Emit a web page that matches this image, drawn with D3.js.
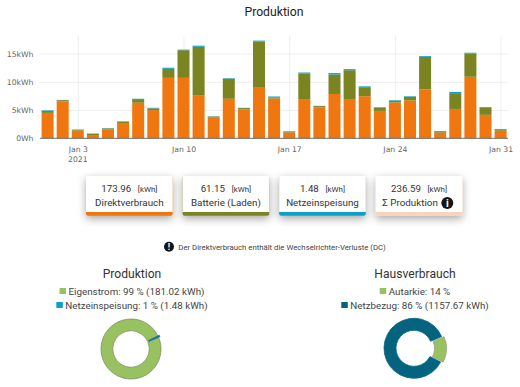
<!DOCTYPE html>
<html>
<head>
<meta charset="utf-8">
<script src="https://cdn.jsdelivr.net/npm/d3@7"></script>
<style>
html, body { margin: 0; padding: 0; background: #fff; }
svg { display: block; font-family: Roboto, sans-serif; }
</style>
</head>
<body>
<div id="chart"></div>
<script>
//daily values in kWh
var days = d3.range(1, 32);
var direkt = [4.5, 6.55, 1.36, 0.45, 1.55, 2.7, 6.3, 5.0, 10.7, 10.7, 7.65, 3.75, 7.0, 5.1, 8.95, 7.05,
    1.0, 6.95, 5.45, 7.85, 6.95, 7.45, 4.85, 6.35, 6.7, 8.65, 1.0, 5.2, 10.9, 4.15, 1.35];
var batterie = [0.35, 0.2, 0.15, 0.35, 0.2, 0.25, 0.5, 0.3, 1.6, 4.9, 8.55, 0.1, 3.55, 0.25, 8.2, 0.2,
    0.2, 4.55, 0.25, 3.45, 5.1, 1.6, 0.55, 0.3, 0.65, 5.75, 0.25, 2.8, 4.1, 1.3, 0.25];
var einspeisung = [0.1, 0.05, 0.05, 0.05, 0.05, 0.05, 0.2, 0.1, 0.2, 0.1, 0.2, 0.05, 0.1, 0.05, 0.15, 0.15,
    0.05, 0.15, 0.05, 0.25, 0.2, 0.15, 0.1, 0.1, 0.1, 0.15, 0.05, 0.2, 0.15, 0.1, 0.05];
var yTicks = [0, 5, 10, 15];
var xTicks = [3, 10, 17, 24, 31];

var cardValues = ["173.96", "61.15", "1.48", "236.59"];
var cardNames = ["Direktverbrauch", "Batterie (Laden)", "Netzeinspeisung", "Σ Produktion"];
var cardColors = ["#f0760f", "#7a8420", "#0e9fc9", "#fbd3bb"];

var prodValues = [181.02, 1.48];
var prodLegend = ["Eigenstrom: 99 % (181.02 kWh)", "Netzeinspeisung: 1 % (1.48 kWh)"];
var prodColors = ["#98c160", "#1a6f9e"];
var prodBoxes = ["#98c160", "#0e9fc9"];
var hausValues = [14, 86];
var hausLegend = ["Autarkie: 14 %", "Netzbezug: 86 % (1157.67 kWh)"];
var hausColors = ["#98c160", "#04647f"];

var width = 520;
var height = 387;

var svg = d3.select("#chart")
    .append("svg")
    .attr("width", width)
    .attr("height", height);

var defs = svg.append("defs");
var shadow = defs.append("filter")
    .attr("id", "card_shadow")
    .attr("x", "-20%").attr("y", "-30%")
    .attr("width", "140%").attr("height", "170%");
shadow.append("feDropShadow")
    .attr("dx", 0).attr("dy", 3)
    .attr("stdDeviation", 4)
    .attr("flood-color", "#000")
    .attr("flood-opacity", 0.35);

svg.append("text")
    .attr("x", 274).attr("y", 16)
    .attr("text-anchor", "middle")
    .attr("font-size", 12.2)
    .attr("fill", "#222")
    .text("Produktion");

//stacked bars
var x = d3.scaleLinear().domain([1, 31]).range([47.6, 500.6]);
var y = d3.scaleLinear().domain([0, 15]).range([138.3, 53.6]);

var plot = svg.append("g");

var gridY = d3.axisLeft(y).tickValues(yTicks.slice(1)).tickSize(-468).tickFormat("");
plot.append("g")
    .attr("transform", "translate(40,0)")
    .call(gridY)
    .call(function (g) {
        g.select(".domain").remove();
        g.selectAll("line").attr("stroke", "#eee");
    });

var gridX = d3.axisBottom(x).tickValues(xTicks).tickSize(-102).tickFormat("");
plot.append("g")
    .attr("transform", "translate(0,138.3)")
    .call(gridX)
    .call(function (g) {
        g.select(".domain").remove();
        g.selectAll("line").attr("stroke", "#eee");
    });

var stackData = days.map(function (d, i) {
    return { day: d, direkt: direkt[i], batterie: batterie[i], einspeisung: einspeisung[i] };
});
var stack = d3.stack().keys(["direkt", "batterie", "einspeisung"]);
var barColors = ["#f0760f", "#7a8420", "#0e9fc9"];

var layer = plot.selectAll(".layer")
    .data(stack(stackData))
    .enter()
    .append("g")
    .attr("class", "layer")
    .attr("fill", function (d, i) { return barColors[i]; });

layer.selectAll("rect")
    .data(function (d) { return d; })
    .enter()
    .append("rect")
    .attr("x", function (d) { return x(d.data.day) - 6; })
    .attr("width", 12)
    .attr("y", function (d) { return y(d[1]); })
    .attr("height", function (d) { return y(d[0]) - y(d[1]); });

//axes
var axisFont = function (g) {
    g.select(".domain").remove();
    g.selectAll("text")
        .attr("font-family", "'DejaVu Sans', sans-serif")
        .attr("font-size", 7.7)
        .attr("fill", "#666");
};

var yAxis = d3.axisLeft(y)
    .tickValues(yTicks)
    .tickSize(0)
    .tickPadding(6.5)
    .tickFormat(function (d) { return d === 0 ? "0Wh" : d + "kWh"; });
plot.append("g")
    .attr("transform", "translate(40,0)")
    .call(yAxis)
    .call(axisFont);

plot.append("line")
    .attr("x1", 40).attr("x2", 508)
    .attr("y1", y(0)).attr("y2", y(0))
    .attr("stroke", "#6b6b6b");

var xAxis = d3.axisBottom(x)
    .tickValues(xTicks)
    .tickSize(0)
    .tickPadding(8.5)
    .tickFormat(function (d) { return "Jan " + d; });
plot.append("g")
    .attr("transform", "translate(0," + y(0) + ")")
    .call(xAxis)
    .call(axisFont);

plot.append("text")
    .attr("x", x(3)).attr("y", 162.2)
    .attr("text-anchor", "middle")
    .attr("font-family", "'DejaVu Sans', sans-serif")
    .attr("font-size", 7.7)
    .attr("fill", "#666")
    .text("2021");

//cards
var cardX = d3.scalePoint().domain(d3.range(4)).range([86, 375.7]);
var cardW = 86.7;

var card = svg.selectAll(".card")
    .data(cardValues)
    .enter()
    .append("g")
    .attr("class", "card")
    .attr("transform", function (d, i) { return "translate(" + cardX(i) + ",176)"; });

card.append("rect")
    .attr("width", cardW).attr("height", 39.7)
    .attr("rx", 2)
    .attr("fill", function (d, i) { return cardColors[i]; })
    .attr("filter", "url(#card_shadow)");
card.append("rect")
    .attr("width", cardW).attr("height", 36)
    .attr("fill", "#fff");

var cardTop = card.append("text")
    .attr("x", cardW / 2).attr("y", 16)
    .attr("text-anchor", "middle")
    .attr("fill", "#333");
cardTop.append("tspan")
    .attr("font-size", 9.7)
    .text(function (d) { return d; });
cardTop.append("tspan")
    .attr("font-size", 7.9)
    .attr("dx", 6.7)
    .text("[kWh]");

card.append("text")
    .attr("x", function (d, i) { return i === 3 ? cardW / 2 - 9 : cardW / 2; })
    .attr("y", 30)
    .attr("text-anchor", "middle")
    .attr("font-size", 9.8)
    .attr("fill", "#333")
    .text(function (d, i) { return cardNames[i]; });

function infoIcon(cx, cy, r, glyph) {
    svg.append("circle")
        .attr("cx", cx).attr("cy", cy).attr("r", r)
        .attr("fill", "#151515");
    svg.append("text")
        .attr("x", cx).attr("y", cy + r * 0.62)
        .attr("text-anchor", "middle")
        .attr("font-size", r * 1.75)
        .attr("font-weight", 700)
        .attr("fill", "#fff")
        .text(glyph);
}

infoIcon(447.3, 203, 6, "i");
infoIcon(169, 246.7, 5, "!");

svg.append("text")
    .attr("x", 178.3).attr("y", 249.5)
    .attr("font-size", 7.77)
    .attr("fill", "#444")
    .text("Der Direktverbrauch enthält die Wechselrichter-Verluste (DC)");

//donuts, both rotated the same way
var rotation = 67 * Math.PI / 180;
var pie = d3.pie()
    .sort(null)
    .startAngle(rotation)
    .endAngle(rotation + 2 * Math.PI);

function donut(opts) {
    var g = svg.append("g");

    g.append("text")
        .attr("x", opts.titleX).attr("y", 278)
        .attr("text-anchor", "middle")
        .attr("font-size", 12.1)
        .attr("fill", "#333")
        .text(opts.title);

    opts.legend.forEach(function (t, i) {
        var yPos = 291 + i * 14;
        var label = g.append("text")
            .attr("x", opts.titleX + 4.5).attr("y", yPos + 3.5)
            .attr("text-anchor", "middle")
            .attr("font-size", 9.8)
            .attr("fill", "#444")
            .text(t);
        var box = label.node().getBBox();
        g.append("rect")
            .attr("x", box.x - 9).attr("y", yPos - 3)
            .attr("width", 6.5).attr("height", 6)
            .attr("fill", opts.boxes[i]);
    });

    var arc = d3.arc().innerRadius(opts.inner).outerRadius(opts.outer);
    g.append("g")
        .attr("transform", "translate(" + opts.cx + "," + opts.cy + ")")
        .selectAll("path")
        .data(pie(opts.values))
        .enter()
        .append("path")
        .attr("d", arc)
        .attr("transform", function (d, i) {
            //pull the slice out along its middle angle
            var mid = (d.startAngle + d.endAngle) / 2;
            var pull = opts.pull[i];
            return "translate(" + pull * Math.sin(mid) + "," + -pull * Math.cos(mid) + ")";
        })
        .attr("fill", function (d, i) { return opts.colors[i]; })
        .attr("stroke", function (d, i) { return opts.strokes[i]; })
        .attr("stroke-width", 0.8);
}

donut({ title: "Produktion", titleX: 132, cx: 131, cy: 349, inner: 18.2, outer: 30,
    values: prodValues, legend: prodLegend, colors: prodColors, boxes: prodBoxes,
    strokes: ["#7f8f6a", "#1a6f9e"], pull: [0, 1.5] });
donut({ title: "Hausverbrauch", titleX: 415, cx: 414, cy: 348.3, inner: 18, outer: 30,
    values: hausValues, legend: hausLegend, colors: hausColors, boxes: hausColors,
    strokes: ["#9a9f90", "#04647f"], pull: [2.5, 0] });
</script>
</body>
</html>
